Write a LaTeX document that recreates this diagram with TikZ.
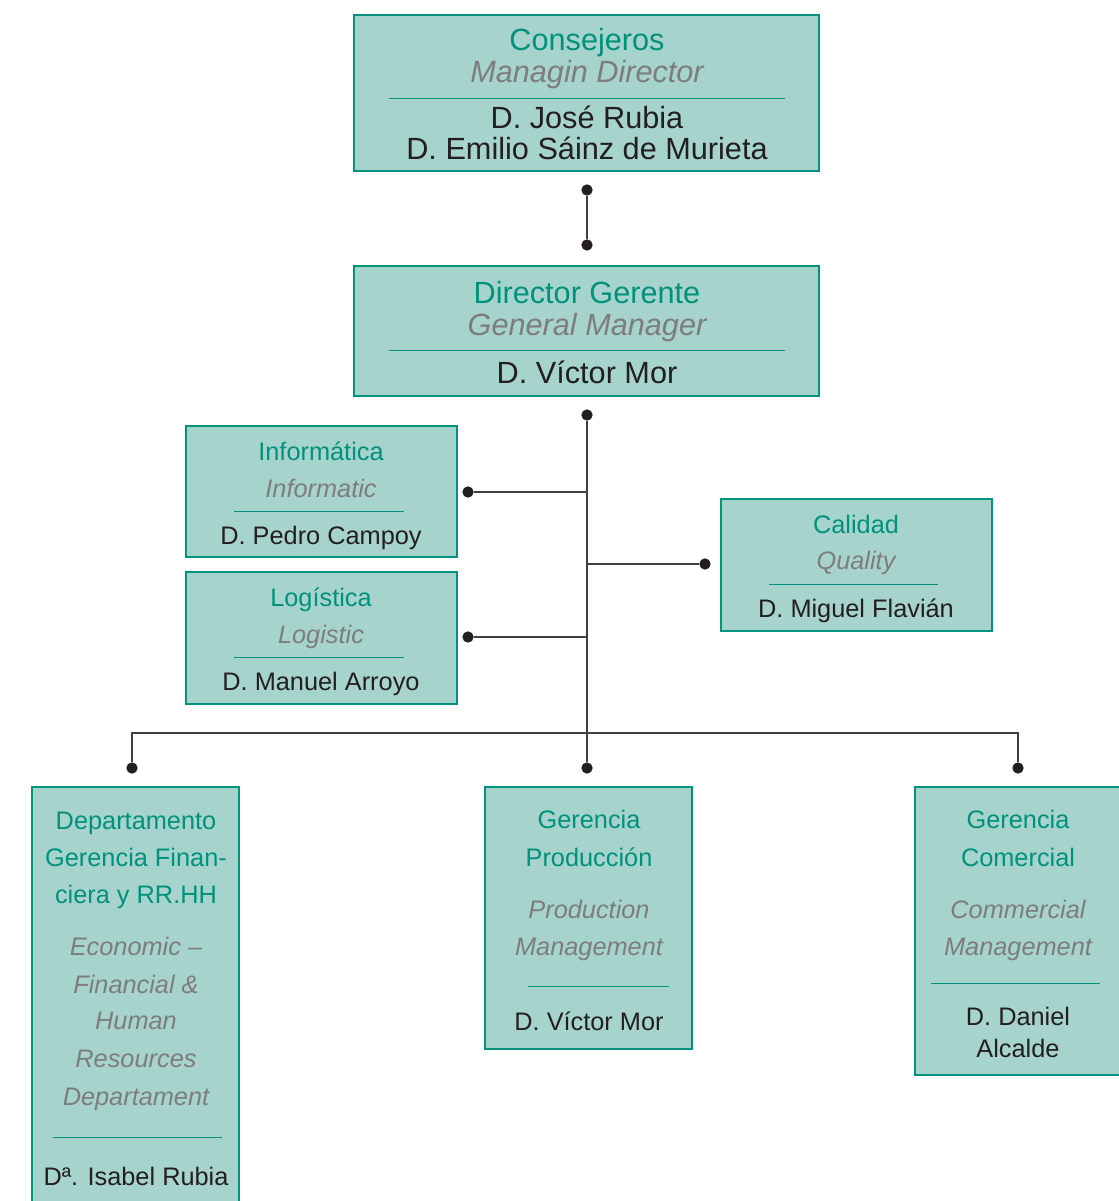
\documentclass[tikz,border=0pt]{standalone}
\usepackage{fontspec}
\setmainfont{Liberation Sans}
\usetikzlibrary{positioning,calc}
\definecolor{boxf}{RGB}{166,211,203}
\definecolor{tealb}{RGB}{0,148,128}
\definecolor{titc}{RGB}{0,146,124}
\definecolor{subc}{RGB}{125,125,125}
\definecolor{namec}{RGB}{35,31,32}
\tikzset{box/.style={draw=tealb,fill=boxf,line width=2pt,inner sep=0pt,outer sep=0pt},
 sep/.style={draw=tealb,line width=.7pt},
 wire/.style={draw=black!75,line width=1pt},
 dot/.style={circle,fill=namec,inner sep=0pt,minimum size=8.5pt},
 txt/.style={anchor=base,inner sep=0pt},
 bt/.style={txt,text=titc,font=\fontsize{23}{27}\selectfont},
 bs/.style={bt,text=subc,font=\fontsize{23}{27}\selectfont\itshape},
 bn/.style={bt,text=namec},
 st/.style={txt,text=titc,font=\fontsize{19}{23}\selectfont},
 ss/.style={st,text=subc,font=\fontsize{19}{23}\selectfont\itshape},
 sn/.style={st,text=namec}}
\begin{document}
\begin{tikzpicture}[x=0.75pt,y=-0.75pt]
\useasboundingbox (0,0) rectangle (1119,1201);
\clip (0,0) rectangle (1119,1201);
% boxes
\node[box,minimum width=348.75pt,minimum height=117pt] (cons) at (586.5,93) {};
\node[box,minimum width=348.75pt,minimum height=97.5pt] (dir) at (586.5,331) {};
\node[box,minimum width=203.25pt,minimum height=98.25pt] (inf) at (321.5,491.5) {};
\node[box,minimum width=203.25pt,minimum height=99pt] (log) at (321.5,638) {};
\node[box,minimum width=203.25pt,minimum height=99pt] (cal) at (856.5,565) {};
\node[box,minimum width=155.25pt,minimum height=321pt] (dep) at (135.5,1001) {};
\node[box,minimum width=155.25pt,minimum height=196.5pt] (prod) at (588.5,918) {};
\node[box,minimum width=155.25pt,minimum height=216pt] (com) at (1018.5,931) {};
% texts
\node[bt] (consT) at (587,51) {Consejeros};
\node[bs] (consS) at (587,83) {Managin Director};
\draw[sep] (389,98) -- (785,98);
\node[bn] (consN1) at (587,129) {D. José Rubia};
\node[bn] (consN2) at (587,160) {D. Emilio Sáinz de Murieta};
\node[bt] (dirT) at (587,304) {Director Gerente};
\node[bs] (dirS) at (587,336) {General Manager};
\draw[sep] (389,350) -- (785,350);
\node[bn] (dirN) at (587,383) {D. Víctor Mor};
\node[st] (infT) at (321,460) {Informática};
\node[ss] (infS) at (321,497) {Informatic};
\draw[sep] (234,511) -- (404,511);
\node[sn] (infN) at (321,544) {D. Pedro Campoy};
\node[st] (logT) at (321,606) {Logística};
\node[ss] (logS) at (321,643) {Logistic};
\draw[sep] (234,657) -- (404,657);
\node[sn] (logN) at (321,690) {D. Manuel Arroyo};
\node[st] (calT) at (856,533) {Calidad};
\node[ss] (calS) at (856,569) {Quality};
\draw[sep] (769,584) -- (938,584);
\node[sn] (calN) at (856,617) {D. Miguel Flavián};
\node[st] (depT1) at (136,829) {Departamento};
\node[st] (depT2) at (136,866) {Gerencia Finan-};
\node[st] (depT3) at (136,903) {ciera y RR.HH};
\node[ss] (depS1) at (136,955) {Economic –};
\node[ss] (depS2) at (136,993) {Financial \&};
\node[ss] (depS3) at (136,1029) {Human};
\node[ss] (depS4) at (136,1067) {Resources};
\node[ss] (depS5) at (136,1105) {Departament};
\draw[sep] (53,1137) -- (222,1137);
\node[sn] (depN) at (136,1185) {Dª. Isabel Rubia};
\node[st] (prodT1) at (589,828) {Gerencia};
\node[st] (prodT2) at (589,866) {Producción};
\node[ss] (prodS1) at (589,918) {Production};
\node[ss] (prodS2) at (589,955) {Management};
\draw[sep] (528,986) -- (669,986);
\node[sn] (prodN) at (589,1030) {D. Víctor Mor};
\node[st] (comT1) at (1018,828) {Gerencia};
\node[st] (comT2) at (1018,866) {Comercial};
\node[ss] (comS1) at (1018,918) {Commercial};
\node[ss] (comS2) at (1018,955) {Management};
\draw[sep] (931,983) -- (1100,983);
\node[sn] (comN1) at (1018,1025) {D. Daniel};
\node[sn] (comN2) at (1018,1057) {Alcalde};
% dots and connectors
\node[dot] (d1) at (587,190) {};
\node[dot] (d2) at (587,245) {};
\node[dot] (dg) at (587,415) {};
\node[dot] (di) at (468,492) {};
\node[dot] (dl) at (468,637) {};
\node[dot] (dq) at (705,564) {};
\node[dot] (dm) at (587,768) {};
\node[dot] (dd) at (132,768) {};
\node[dot] (dc) at (1018,768) {};
\coordinate (bus) at (587,733);
\draw[wire] (d1) -- (d2);
\draw[wire] (dg) -- (dm);
\draw[wire] (di) -- (di -| dg);
\draw[wire] (dl) -- (dl -| dg);
\draw[wire] (dq -| dg) -- (dq);
\draw[wire] (dd) |- (bus) -| (dc);
\end{tikzpicture}
\end{document}
